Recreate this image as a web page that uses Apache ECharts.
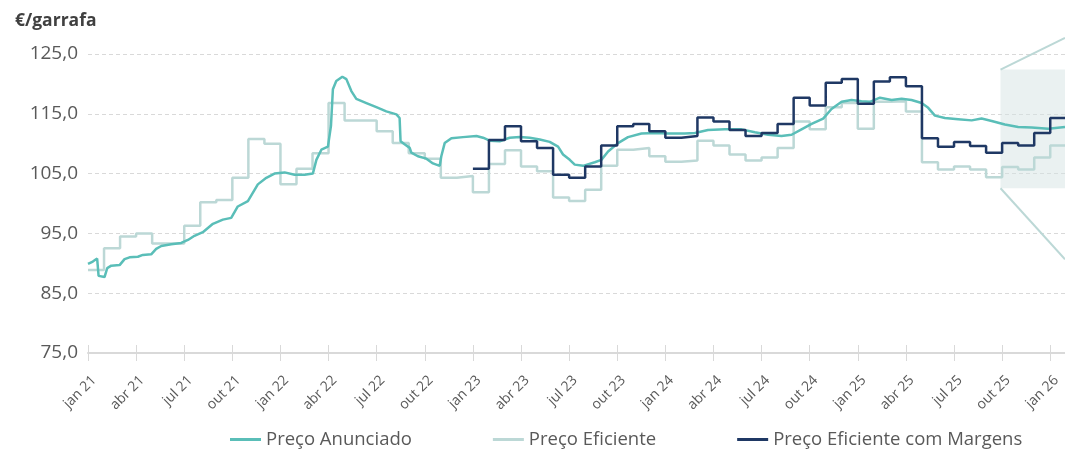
<!DOCTYPE html>
<html>
<head>
<meta charset="utf-8">
<script src="https://cdn.jsdelivr.net/npm/echarts@6/dist/echarts.min.js"></script>
<style>
    html, body { margin: 0; padding: 0; background: #fff; }
    #grafico { width: 1065px; height: 450px; }
</style>
</head>
<body>
<div id="grafico"></div>
<script>
// rótulos do eixo x (um por mês, jan 21 = 0)
var mesesAbrev = ['jan', 'fev', 'mar', 'abr', 'mai', 'jun', 'jul', 'ago', 'set', 'out', 'nov', 'dez']
var anos = ['21', '22', '23', '24', '25', '26']

// Preço Eficiente - valor mensal a partir de jan 21
var precoEficiente = [
    88.9, 92.5, 94.5, 95.0, 93.3, 93.3, 96.3, 100.2, 100.6, 104.3, 110.8, 110.0,
    103.2, 105.8, 108.4, 116.8, 113.9, 113.9, 112.1, 110.1, 108.4, 107.5, 104.3, 104.6,
    101.9, 106.6, 108.9, 106.2, 105.4, 101.0, 100.4, 102.3, 106.3, 109.0, 109.3, 107.9,
    107.0, 107.2, 110.5, 109.7, 108.2, 107.2, 107.7, 109.3, 113.7, 112.4, 116.1, 116.8,
    112.5, 117.0, 117.1, 115.4, 106.9, 105.7, 106.2, 105.7, 104.4, 106.1, 105.7, 107.7,
    109.7, 111.0
]

// Preço Eficiente com Margens - valor mensal a partir de jan 23
var inicioMargens = 24
var precoMargens = [
    105.8, 110.6, 112.9, 110.4, 109.3, 104.8, 104.3, 106.2, 109.7, 112.9, 113.3, 112.1,
    111.0, 111.3, 114.4, 113.7, 112.3, 111.3, 111.8, 113.3, 117.7, 116.4, 120.2, 120.8,
    116.7, 120.4, 121.1, 119.6, 110.9, 109.5, 110.3, 109.6, 108.5, 110.1, 109.7, 111.8,
    114.3, 116.5
]

// Preço Anunciado - posição em meses e preço
var anunciadoMes = [
    0.00, 0.30, 0.57, 0.66, 1.03, 1.20, 1.45, 1.97, 2.28, 2.59, 3.11, 3.42, 3.94, 4.25, 4.57,
    5.19, 5.81, 6.23, 6.64, 7.16, 7.79, 8.41, 8.93, 9.34, 9.97, 10.59, 11.12, 11.63, 12.26,
    12.88, 13.51, 14.02, 14.24, 14.55, 14.96, 15.15, 15.27, 15.48, 15.86, 16.11, 16.42, 16.73,
    17.36, 17.98, 18.60, 19.23, 19.43, 19.49, 19.74, 20.06, 20.16, 20.57, 21.10, 21.51, 21.93,
    22.03, 22.24, 22.66, 23.38, 24.22, 24.63, 25.05, 25.67, 26.29, 26.92, 27.54, 28.17, 28.79,
    29.31, 29.62, 30.04, 30.35, 30.87, 31.60, 32.01, 32.43, 33.05, 33.67, 34.51, 35.34, 36.17,
    37.21, 37.84, 38.66, 39.71, 40.75, 41.58, 42.41, 43.24, 43.87, 44.49, 45.12, 45.84, 46.36,
    46.99, 47.61, 48.23, 48.75, 49.38, 50.11, 50.73, 51.35, 51.98, 52.39, 52.81, 53.43, 54.26,
    55.10, 55.72, 56.35, 57.17, 58.00, 58.84, 59.88, 60.92
]
var anunciadoPreco = [
    89.9, 90.3, 90.8, 87.9, 87.7, 89.2, 89.6, 89.7, 90.7, 91.0, 91.1, 91.4, 91.5, 92.4, 92.9,
    93.2, 93.4, 93.9, 94.6, 95.2, 96.6, 97.3, 97.6, 99.5, 100.4, 103.2, 104.3, 105.0, 105.2,
    104.8, 104.8, 105.0, 107.3, 109.0, 109.5, 113.0, 119.1, 120.5, 121.2, 120.8, 118.8, 117.5,
    116.8, 116.1, 115.4, 114.9, 114.3, 110.4, 109.9, 109.3, 108.5, 107.9, 107.5, 106.7, 106.3,
    107.9, 110.1, 110.9, 111.1, 111.3, 111.0, 110.5, 110.4, 111.0, 111.1, 111.0, 110.7, 110.3,
    109.5, 108.2, 107.3, 106.5, 106.3, 106.9, 107.3, 108.7, 110.1, 111.1, 111.7, 111.8, 111.7,
    111.7, 111.8, 112.3, 112.4, 112.4, 111.9, 111.5, 111.3, 111.5, 112.4, 113.3, 114.2, 115.8,
    117.0, 117.3, 117.1, 117.0, 117.7, 117.3, 117.5, 117.3, 116.8, 116.0, 114.7, 114.3, 114.1,
    113.9, 114.2, 113.8, 113.2, 112.8, 112.7, 112.5, 112.8
]

// destaque (zoom) no fim do gráfico, em coordenadas de dados
var destaqueX = [56.9, 60.92]
var destaqueY = [122.4, 102.55]
var destaqueFimY = [127.7, 90.66]

var xMax = 60.92

function montaRotulos() {
    var rotulos = []
    for (var a = 0; a < anos.length; a++) {
        for (var m = 0; m < mesesAbrev.length; m++) {
            rotulos.push(mesesAbrev[m] + ' ' + anos[a])
        }
    }
    return rotulos
}

function serieDegraus(valores, inicio) {
    var dados = []
    for (var i = 0; i < valores.length; i++) {
        dados.push([inicio + i, valores[i]])
    }
    dados.push([inicio + valores.length, valores[valores.length - 1]])
    return dados
}

function seriePontos(xs, ys) {
    var dados = []
    for (var i = 0; i < xs.length; i++) {
        dados.push([xs[i], ys[i]])
    }
    return dados
}

var rotulos = montaRotulos()
var corTexto = '#595959'
var fonte = 'Open Sans'

var myChart = echarts.init(document.getElementById('grafico'))

var option = {
    backgroundColor: '#fff',
    textStyle: { fontFamily: fonte },
    animation: false,
    title: {
        text: '€/garrafa',
        left: 10,
        top: 7,
        textStyle: { fontFamily: fonte, fontSize: 17.5, fontWeight: 'bold', color: '#404040' }
    },
    legend: {
        data: ['Preço Anunciado', 'Preço Eficiente', 'Preço Eficiente com Margens'],
        left: 225,
        top: 425,
        icon: 'rect',
        itemWidth: 31,
        itemHeight: 3,
        itemGap: 81,
        textStyle: { fontFamily: fonte, fontSize: 18.5, color: corTexto }
    },
    grid: {
        left: 88,
        right: 0,
        top: 54,
        bottom: 97
    },
    xAxis: [
        {
            type: 'value',
            min: 0,
            max: xMax,
            interval: 3,
            splitLine: { show: false },
            axisLine: { lineStyle: { color: '#D9D9D9', width: 2 } },
            axisTick: { length: 8, lineStyle: { color: '#D9D9D9' } },
            axisLabel: {
                rotate: 45,
                margin: 19,
                verticalAlign: 'top',
                lineHeight: 17,
                showMaxLabel: false,
                fontFamily: fonte,
                fontSize: 14,
                color: corTexto,
                formatter: function (v) {
                    return rotulos[Math.round(v)] || ''
                }
            }
        },
        {
            type: 'value',
            gridIndex: 0,
            position: 'bottom',
            min: 0,
            max: xMax,
            interval: 3,
            splitLine: { show: false },
            axisLine: { show: false },
            axisTick: { inside: true, length: 8, lineStyle: { color: '#D9D9D9' } },
            axisLabel: { show: false }
        }
    ],
    yAxis: {
        type: 'value',
        min: 75,
        max: 125,
        interval: 10,
        axisLine: { show: false },
        axisTick: { show: false },
        splitLine: { lineStyle: { color: '#D9D9D9', type: [4, 3] } },
        axisLabel: {
            margin: 10,
            fontFamily: fonte,
            fontSize: 19,
            color: corTexto,
            formatter: function (v) {
                return v.toFixed(1).replace('.', ',')
            }
        }
    },
    series: [
        {
            name: 'destaque-sup',
            type: 'line',
            z: 1,
            silent: true,
            clip: false,
            symbol: 'none',
            lineStyle: { color: '#BCD8D6', width: 2 },
            data: [[destaqueX[0], destaqueY[0]], [destaqueX[1], destaqueFimY[0]]],
            markArea: {
                silent: true,
                itemStyle: { color: 'rgba(214, 228, 228, 0.5)' },
                data: [[
                    { xAxis: destaqueX[0], yAxis: destaqueY[0] },
                    { xAxis: destaqueX[1], yAxis: destaqueY[1] }
                ]]
            }
        },
        {
            name: 'destaque-inf',
            type: 'line',
            z: 1,
            silent: true,
            clip: false,
            symbol: 'none',
            lineStyle: { color: '#BCD8D6', width: 2 },
            data: [[destaqueX[0], destaqueY[1]], [destaqueX[1], destaqueFimY[1]]]
        },
        {
            name: 'Preço Eficiente',
            type: 'line',
            step: 'end',
            symbol: 'none',
            itemStyle: { color: '#BCD8D6' },
            lineStyle: { color: '#BCD8D6', width: 2.5 },
            data: serieDegraus(precoEficiente, 0)
        },
        {
            name: 'Preço Anunciado',
            type: 'line',
            symbol: 'none',
            itemStyle: { color: '#5ABEB8' },
            lineStyle: { color: '#5ABEB8', width: 2.5 },
            data: seriePontos(anunciadoMes, anunciadoPreco)
        },
        {
            name: 'Preço Eficiente com Margens',
            type: 'line',
            step: 'end',
            symbol: 'none',
            itemStyle: { color: '#1F3864' },
            lineStyle: { color: '#1F3864', width: 2.5 },
            data: serieDegraus(precoMargens, inicioMargens)
        }
    ]
}

myChart.setOption(option)
</script>
</body>
</html>
